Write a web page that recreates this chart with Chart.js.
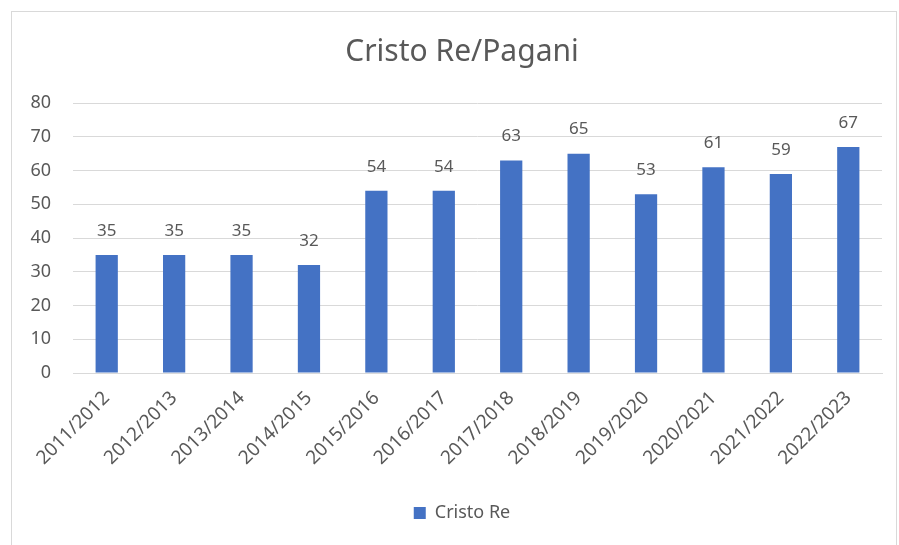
<!DOCTYPE html>
<html>
<head>
<meta charset="utf-8">
<script src="https://cdn.jsdelivr.net/npm/chart.js@4/dist/chart.umd.min.js"></script>
<style>
  html, body { margin: 0; padding: 0; background: #fff; overflow: hidden; }
  #wrap { position: relative; width: 899px; height: 545px; overflow: hidden; }
  #frame { position: absolute; left: 11px; top: 11px; width: 884px; height: 600px; border: 1px solid #d9d9d9; }
  canvas { position: absolute; left: 0; top: 0; }
</style>
</head>
<body>
<div id="wrap">
  <div id="frame"></div>
  <!-- a bit wider than the window so title and legend sit centred like the original -->
  <canvas id="chart" width="921" height="545"></canvas>
</div>
<script>
const seasons = ['2011/2012', '2012/2013', '2013/2014', '2014/2015', '2015/2016', '2016/2017',
                 '2017/2018', '2018/2019', '2019/2020', '2020/2021', '2021/2022', '2022/2023'];
const cristoRe = [35, 35, 35, 32, 54, 54, 63, 65, 53, 61, 59, 67];
const yTicks = [0, 10, 20, 30, 40, 50, 60, 70, 80];

const textColor = '#595959';
const fontFamily = '"Noto Sans", "Open Sans", sans-serif';

// draws the value above every bar
const barValues = {
    id: 'barValues',
    afterDatasetsDraw(chart) {
        const ctx = chart.ctx;
        ctx.save();
        ctx.fillStyle = textColor;
        ctx.font = '17px ' + fontFamily;
        ctx.textAlign = 'center';
        ctx.textBaseline = 'middle';
        chart.getDatasetMeta(0).data.forEach((bar, i) => {
            ctx.fillText(chart.data.datasets[0].data[i], bar.x, bar.y - 24);
        });
        ctx.restore();
    }
};

new Chart(document.getElementById('chart'), {
    type: 'bar',
    data: {
        labels: seasons,
        datasets: [{
            label: 'Cristo Re',
            data: cristoRe,
            backgroundColor: '#4472C4',
            categoryPercentage: 1.0,
            barPercentage: 0.33
        }]
    },
    options: {
        responsive: false,
        animation: false,
        layout: { padding: { left: 20, right: 17, top: 20, bottom: 13 } },
        plugins: {
            title: {
                display: true,
                text: 'Cristo Re/Pagani',
                color: textColor,
                font: { family: fontFamily, size: 30, weight: 'normal' },
                padding: { top: 14, bottom: 33 }
            },
            legend: {
                position: 'bottom',
                labels: {
                    color: textColor,
                    font: { family: fontFamily, size: 18 },
                    boxWidth: 12,
                    boxHeight: 12,
                    padding: 10
                }
            },
            tooltip: { enabled: false }
        },
        scales: {
            x: {
                grid: { display: false },
                border: { display: true, color: '#d9d9d9' },
                ticks: {
                    color: textColor,
                    font: { family: fontFamily, size: 19 },
                    minRotation: 45,
                    maxRotation: 45,
                    padding: 6
                },
                afterFit(scale) {
                    scale.height = 121;
                    scale.paddingLeft = 0;
                    scale.paddingRight = 0;
                }
            },
            y: {
                min: 0,
                max: 80,
                afterBuildTicks(scale) { scale.ticks = yTicks.map(v => ({ value: v })); },
                grid: { color: '#d9d9d9', drawTicks: false },
                border: { display: false },
                ticks: {
                    color: textColor,
                    font: { family: fontFamily, size: 18 },
                    padding: 22
                },
                afterFit(scale) { scale.width = 53; }
            },
            // empty spacer on the right
            spacer: {
                type: 'linear',
                position: 'right',
                grid: { display: false },
                border: { display: false },
                ticks: { display: false },
                afterFit(scale) { scale.width = 22; }
            }
        }
    },
    plugins: [barValues]
});
</script>
</body>
</html>
